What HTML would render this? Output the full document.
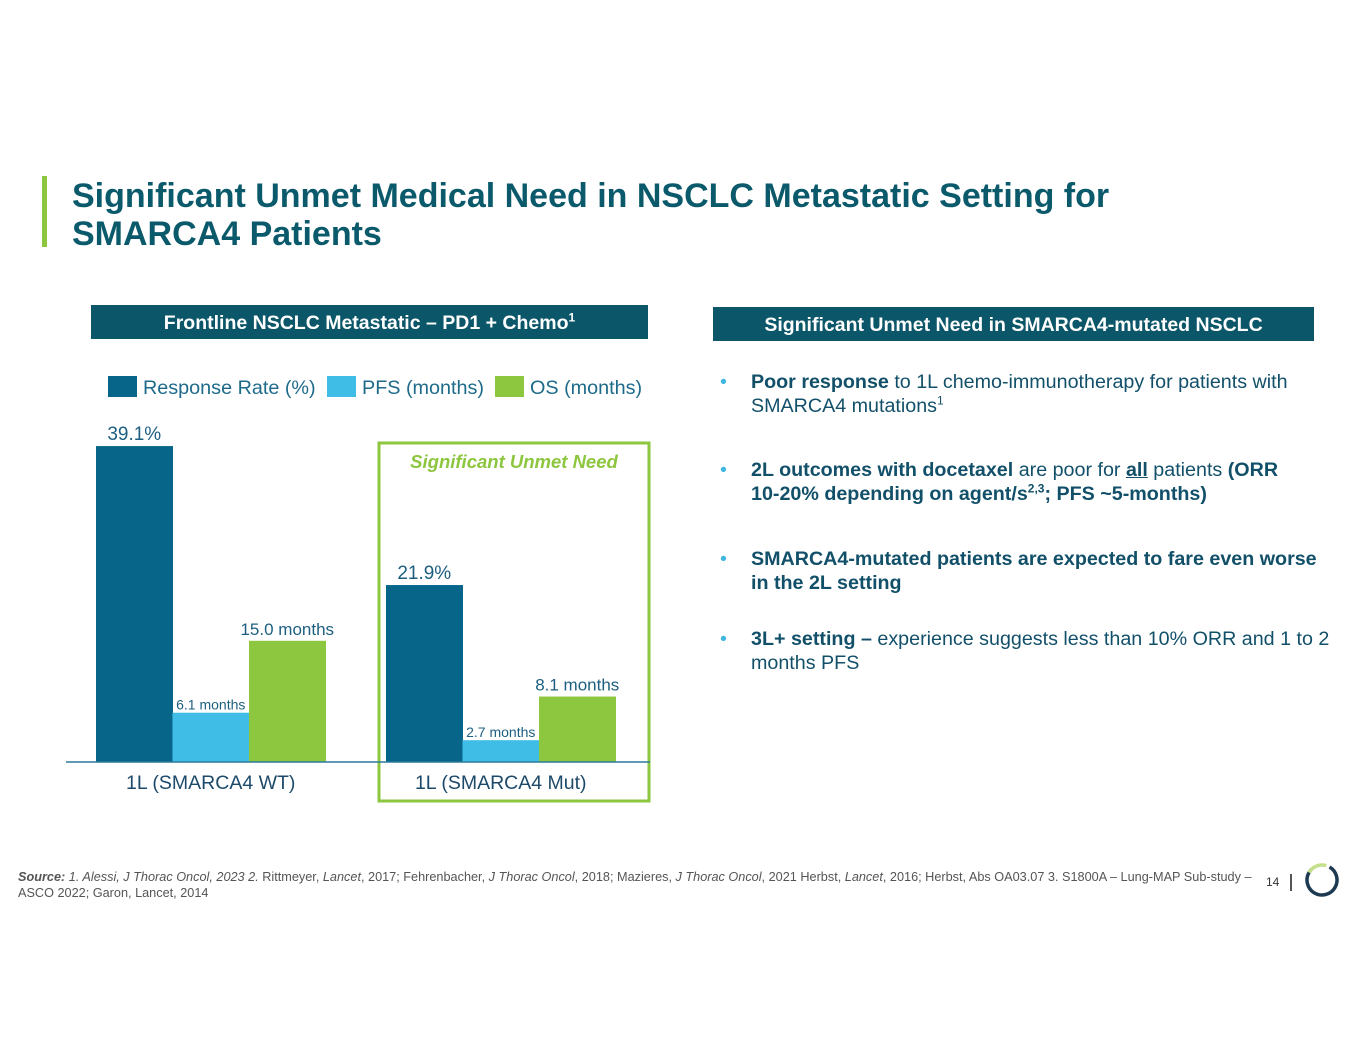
<!DOCTYPE html>
<html><head><meta charset="utf-8">
<style>
body{margin:0;width:1365px;height:1055px;background:#fff;font-family:"Liberation Sans",Arial,sans-serif;position:relative;overflow:hidden}
.abs{position:absolute}
.title{left:72px;top:177px;font-size:34px;font-weight:bold;color:#0b5a6b;line-height:38px}
.hdr{background:#0c5669;color:#fff;font-weight:bold;font-size:19.5px;text-align:center;line-height:36px}
.bul{left:720px;width:614px;font-size:19.7px;color:#12506a;line-height:24px}
.bul .dot{position:absolute;left:0;color:#3fb7e2}
.bul .t{margin-left:31px}
.nw{white-space:nowrap}
sup{font-size:12px;line-height:0}
</style></head><body>
<div class="abs" style="left:42px;top:176px;width:5px;height:71px;background:#8dc63f"></div>
<div class="abs title">Significant Unmet Medical Need in NSCLC Metastatic Setting for<br>SMARCA4 Patients</div>
<div class="abs hdr" style="left:91px;top:305px;width:557px;height:34px">Frontline NSCLC Metastatic – PD1 + Chemo<sup>1</sup></div>
<div class="abs hdr" style="left:713px;top:307px;width:601px;height:34px">Significant Unmet Need in SMARCA4-mutated NSCLC</div>

<svg class="abs" style="left:0;top:0" width="1365" height="1055" id="chart"></svg>

<div class="abs bul" style="top:370px"><span class="dot">•</span><div class="t"><b>Poor response</b> to 1L chemo-immunotherapy for patients with SMARCA4 mutations<sup>1</sup></div></div>
<div class="abs bul" style="top:458px"><span class="dot">•</span><div class="t"><b>2L outcomes with docetaxel</b> are poor for <b><u>all</u></b> patients <b>(ORR <span class="nw">10-20%</span> depending on agent/s<sup>2,3</sup>; PFS ~5-months)</b></div></div>
<div class="abs bul" style="top:547px"><span class="dot">•</span><div class="t"><b>SMARCA4-mutated patients are expected to fare even worse in the 2L setting</b></div></div>
<div class="abs bul" style="top:627px"><span class="dot">•</span><div class="t"><b>3L+ setting –</b> experience suggests less than 10% ORR and 1 to 2 months PFS</div></div>

<div class="abs" style="left:18px;top:869px;width:1250px;font-size:12.7px;color:#555;line-height:16px"><b><i>Source:</i></b> <i>1. Alessi, J Thorac Oncol, 2023 2.</i> Rittmeyer, <i>Lancet</i>, 2017; Fehrenbacher, <i>J Thorac Oncol</i>, 2018; Mazieres, <i>J Thorac Oncol</i>, 2021 Herbst, <i>Lancet</i>, 2016; Herbst, Abs OA03.07 3. S1800A – Lung-MAP Sub-study –<br>ASCO 2022; Garon, Lancet, 2014</div>
<div class="abs" style="left:1266px;top:875px;font-size:12px;color:#333">14</div>
<div class="abs" style="left:1290px;top:874px;width:2px;height:17px;background:#555"></div>
<svg class="abs" style="left:1302px;top:860px" width="40" height="40">
<circle cx="20" cy="20" r="15" fill="none" stroke="#1d3a52" stroke-width="3.5" stroke-dasharray="75 100" transform="rotate(-60 20 20)"/>
<circle cx="20" cy="20" r="15" fill="none" stroke="#c5e08a" stroke-width="3.5" stroke-dasharray="20 100" transform="rotate(-150 20 20)"/>
</svg>

<script>
const groups=["1L (SMARCA4 WT)","1L (SMARCA4 Mut)"];
const responseRate=[39.1,21.9];
const pfs=[6.1,2.7];
const os=[15.0,8.1];
const rrLabels=["39.1%","21.9%"];
const pfsLabels=["6.1 months","2.7 months"];
const osLabels=["15.0 months","8.1 months"];
const seriesNames=["Response Rate (%)","PFS (months)","OS (months)"];
const colors=["#07658a","#3fbde6","#8dc63f"];
const NS="http://www.w3.org/2000/svg";
const svg=document.getElementById("chart");
const base=762, scale=8.08;
const y=v=>base-v*scale;
const groupX=[96,386], bw=76.5;
function el(tag,attrs,txt){const e=document.createElementNS(NS,tag);for(const k in attrs)e.setAttribute(k,attrs[k]);if(txt!==undefined)e.textContent=txt;svg.appendChild(e);return e;}
const legX=[108,327,495];
seriesNames.forEach((n,i)=>{
 const r=el("rect",{x:legX[i],y:376,width:29,height:21,fill:colors[i]});
 
 
 const t=el("text",{x:legX[i]+35,y:394,"font-size":19.8,fill:"#1d6a8a","font-family":"Liberation Sans, sans-serif"},n);
 
 
});
const box=el("rect",{x:379,y:443,width:270,height:358,fill:"none",stroke:"#8dc63f","stroke-width":3});


const bt=el("text",{x:514,y:468,"font-size":18.5,"font-weight":"bold","font-style":"italic",fill:"#8dc63f","text-anchor":"middle","font-family":"Liberation Sans, sans-serif"},"Significant Unmet Need");


const series=[responseRate,pfs,os], labels=[rrLabels,pfsLabels,osLabels];
groups.forEach((g,gi)=>{
 series.forEach((s,si)=>{
  const x=groupX[gi]+si*bw;
  const b=el("rect",{x:x,y:y(s[gi]),width:bw+0.5,height:base-y(s[gi]),fill:colors[si]});
  
  
  const fs=si===1?14:si===0?19:17;
  const lt=el("text",{x:x+bw/2,y:y(s[gi])-(si===1?3:6),"font-size":fs,fill:"#1d5f80","text-anchor":"middle","font-family":"Liberation Sans, sans-serif"},labels[si][gi]);
  
  
 });
 const gt=el("text",{x:groupX[gi]+bw*1.5,y:789,"font-size":19.5,fill:"#1d4a6a","text-anchor":"middle","font-family":"Liberation Sans, sans-serif"},g);
 
 
});
const ax=el("line",{x1:66,x2:650,y1:base,y2:base,stroke:"#2c7a9a","stroke-width":1.5});


</script>
</body></html>
